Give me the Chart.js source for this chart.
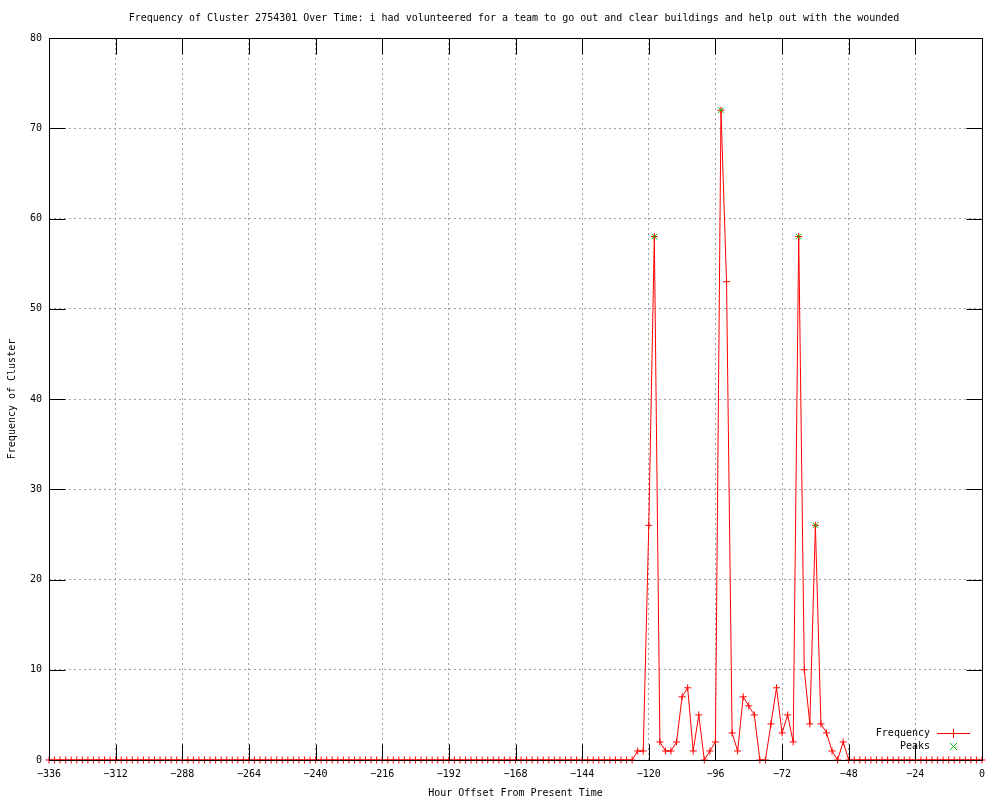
<!DOCTYPE html>
<html>
<head>
<meta charset="utf-8">
<script src="https://cdn.jsdelivr.net/npm/chart.js@4.4.1/dist/chart.umd.min.js"></script>
<style>
    html, body { margin: 0; padding: 0; background: #fff; }
    #wrap { width: 1000px; height: 800px; }
</style>
</head>
<body>
<div id="wrap"><canvas id="chart" width="1000" height="800"></canvas></div>
<script>
const chartTitle = "Frequency of Cluster 2754301 Over Time: i had volunteered for a team to go out and clear buildings and help out with the wounded";

// one sample every 2 hours, -336 .. 0
const hours = [];
for (let h = -336; h <= 0; h += 2) hours.push(h);

const frequency = [
    0, 0, 0, 0, 0, 0, 0, 0, 0, 0, 0, 0, 0, 0, 0, 0, 0, 0, 0, 0,
    0, 0, 0, 0, 0, 0, 0, 0, 0, 0, 0, 0, 0, 0, 0, 0, 0, 0, 0, 0,
    0, 0, 0, 0, 0, 0, 0, 0, 0, 0, 0, 0, 0, 0, 0, 0, 0, 0, 0, 0,
    0, 0, 0, 0, 0, 0, 0, 0, 0, 0, 0, 0, 0, 0, 0, 0, 0, 0, 0, 0,
    0, 0, 0, 0, 0, 0, 0, 0, 0, 0, 0, 0, 0, 0, 0, 0, 0, 0, 0, 0,
    0, 0, 0, 0, 0, 0,
    // -124 .. -48
    1, 1, 26, 58, 2, 1, 1, 2, 7, 8, 1, 5, 0, 1, 2, 72, 53, 3, 1, 7,
    6, 5, 0, 0, 4, 8, 3, 5, 2, 58, 10, 4, 26, 4, 3, 1, 0, 2, 0,
    // -46 .. 0
    0, 0, 0, 0, 0, 0, 0, 0, 0, 0, 0, 0, 0, 0, 0, 0, 0, 0, 0, 0,
    0, 0, 0, 0
];

const peakHours = [-118, -94, -66, -60];
const peakValues = [58, 72, 58, 26];

const xTickLabels = [-336, -312, -288, -264, -240, -216, -192, -168, -144, -120, -96, -72, -48, -24, 0];
const yTickLabels = [0, 10, 20, 30, 40, 50, 60, 70, 80];

const FONT = "DejaVu Sans Mono";
const RED = "#ff0000";
const GREEN = "#00c000";

Chart.defaults.color = "#000";
Chart.defaults.font.family = FONT;
Chart.defaults.font.size = 10;

// title, border, inward ticks and the legend, gnuplot style
const gnuplotFrame = {
    id: "gnuplotFrame",
    beforeDatasetsDraw(chart) {
        const ctx = chart.ctx;
        ctx.save();
        ctx.fillStyle = "#000";
        ctx.font = "10px '" + FONT + "'";
        ctx.textAlign = "center";
        ctx.textBaseline = "middle";
        ctx.fillText(chartTitle, 514, 18);
        ctx.restore();
    },
    afterDatasetsDraw(chart) {
        const {ctx, chartArea: a, scales} = chart;
        const L = Math.round(a.left) + 0.5, R = Math.round(a.right) + 0.5;
        const T = Math.round(a.top) + 0.5, B = Math.round(a.bottom) + 0.5;
        const tick = 16;
        ctx.save();
        ctx.strokeStyle = "#000";
        ctx.lineWidth = 1;
        ctx.setLineDash([]);
        ctx.beginPath();
        ctx.rect(L, T, R - L, B - T);
        xTickLabels.forEach(v => {
            const x = Math.round(scales.x.getPixelForValue(v)) + 0.5;
            ctx.moveTo(x, B); ctx.lineTo(x, B - tick);
            ctx.moveTo(x, T); ctx.lineTo(x, T + tick);
        });
        yTickLabels.forEach(v => {
            const y = Math.round(scales.y.getPixelForValue(v)) + 0.5;
            ctx.moveTo(L, y); ctx.lineTo(L + tick, y);
            ctx.moveTo(R, y); ctx.lineTo(R - tick, y);
        });
        ctx.stroke();
        ctx.restore();
    },
    afterDraw(chart) {
        const ctx = chart.ctx;
        ctx.save();
        ctx.font = "10px '" + FONT + "'";
        ctx.textAlign = "right";
        ctx.textBaseline = "middle";
        ctx.fillStyle = "#000";
        ctx.fillText("Frequency", 930, 733);
        ctx.fillText("Peaks", 930, 746);

        // Frequency sample: line with a plus
        ctx.fillStyle = RED;
        ctx.fillRect(937, 733, 33, 1);
        ctx.fillRect(953, 729, 1, 9);

        // Peaks sample: an x
        ctx.fillStyle = GREEN;
        for (let i = 0; i < 7; i++) {
            ctx.fillRect(950 + i, 743 + i, 1, 1);
            ctx.fillRect(956 - i, 743 + i, 1, 1);
        }
        ctx.restore();
    }
};

new Chart(document.getElementById("chart"), {
    type: "scatter",
    data: {
        datasets: [
            {
                label: "Peaks",
                data: peakHours.map((h, i) => ({x: h, y: peakValues[i]})),
                showLine: false,
                borderColor: GREEN,
                backgroundColor: GREEN,
                pointStyle: "crossRot",
                pointRadius: 4,
                borderWidth: 1,
                clip: false
            },
            {
                label: "Frequency",
                data: hours.map((h, i) => ({x: h, y: frequency[i]})),
                showLine: true,
                tension: 0,
                borderColor: RED,
                backgroundColor: RED,
                pointStyle: "cross",
                pointRadius: 3.5,
                borderWidth: 1,
                clip: false
            }
        ]
    },
    options: {
        responsive: false,
        animation: false,
        events: [],
        layout: {padding: {top: 38, right: 18, bottom: 0, left: 0}},
        plugins: {
            legend: {display: false},
            tooltip: {enabled: false},
            title: {display: false}
        },
        scales: {
            x: {
                type: "linear",
                min: -336,
                max: 0,
                afterFit(scale) { scale.height = 40; },
                afterBuildTicks(scale) { scale.ticks = xTickLabels.map(v => ({value: v})); },
                grid: {color: "#a0a0a0", lineWidth: 1, drawTicks: false},
                border: {display: false, dash: [2, 3]},
                ticks: {padding: 8, maxRotation: 0, autoSkip: false, color: "#000",
                        callback: v => String(v).replace("-", "\u2212")},
                title: {display: true, text: "Hour Offset From Present Time", color: "#000",
                        padding: {top: 0, bottom: 1}}
            },
            y: {
                min: 0,
                max: 80,
                afterFit(scale) { scale.width = 49; },
                afterBuildTicks(scale) { scale.ticks = yTickLabels.map(v => ({value: v})); },
                grid: {color: "#a0a0a0", lineWidth: 1, drawTicks: false},
                border: {display: false, dash: [2, 3]},
                ticks: {padding: 7, color: "#000"},
                title: {display: true, text: "Frequency of Cluster", color: "#000",
                        padding: {top: 6, bottom: 0}}
            }
        }
    },
    plugins: [gnuplotFrame]
});
</script>
</body>
</html>
